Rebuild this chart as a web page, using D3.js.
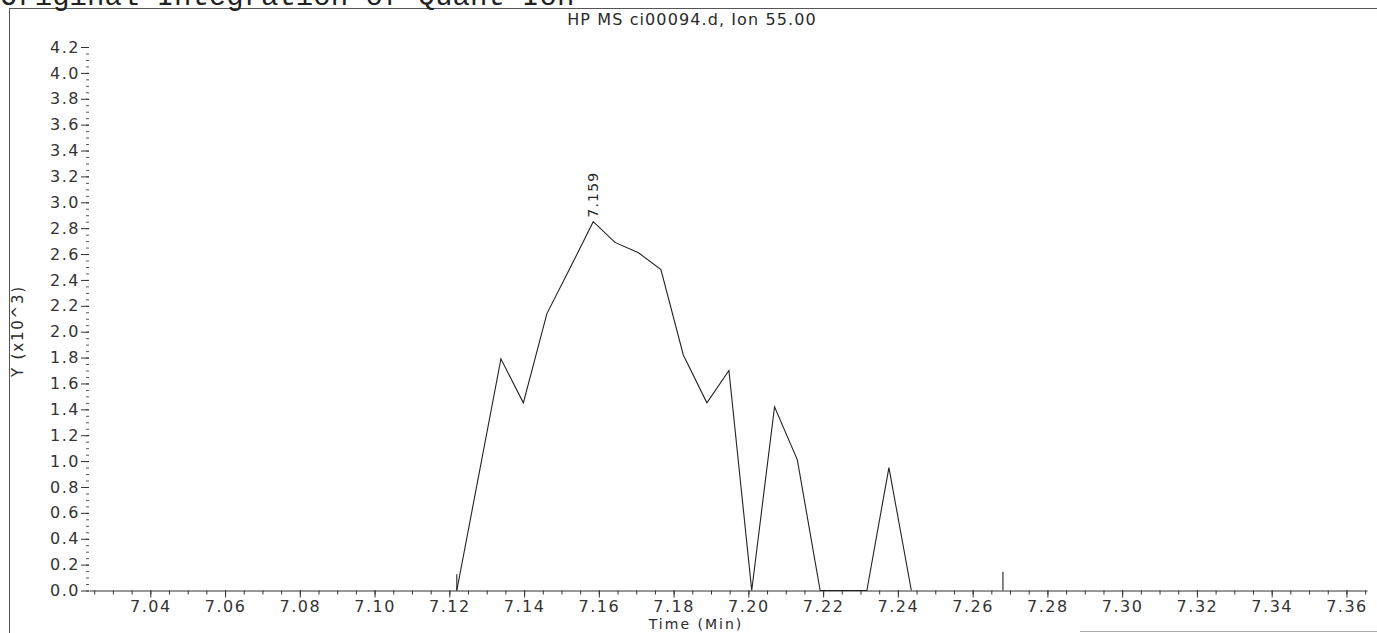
<!DOCTYPE html>
<html>
<head>
<meta charset="utf-8">
<script src="https://cdn.jsdelivr.net/npm/d3@7"></script>
<style>
  html, body { margin: 0; padding: 0; background: #fff; }
  svg text { font-family: "DejaVu Sans", sans-serif; fill: #2a2a2a; }
</style>
</head>
<body>
<div class="chart"></div>
<script>
// ion 55 trace (abundance in thousands)
const times = [7.1220, 7.1338, 7.1398, 7.1461, 7.1521, 7.1585, 7.1643, 7.1706, 7.1766, 7.1826,
               7.1889, 7.1948, 7.2009, 7.2070, 7.2131, 7.2192, 7.2253, 7.2317, 7.2376, 7.2436];
const abundance = [0, 1.79, 1.45, 2.14, 2.48, 2.85, 2.69, 2.61, 2.48, 1.82,
                   1.45, 1.70, 0, 1.42, 1.01, 0, 0, 0, 0.95, 0];

// integration marks
const markerTimes = [7.1220, 7.2681];
const markerHeights = [0.125, 0.145];

const peakTime = 7.1585;
const peakValue = 2.85;
const peakLabel = "7.159";

const xMajorTicks = [7.04, 7.06, 7.08, 7.10, 7.12, 7.14, 7.16, 7.18, 7.20, 7.22, 7.24, 7.26, 7.28, 7.30, 7.32, 7.34, 7.36];
const yMajorTicks = [0, 0.2, 0.4, 0.6, 0.8, 1.0, 1.2, 1.4, 1.6, 1.8, 2.0, 2.2, 2.4, 2.6, 2.8, 3.0, 3.2, 3.4, 3.6, 3.8, 4.0, 4.2];

const title = "HP MS ci00094.d, Ion 55.00";
const header = "Original Integration of Quant Ion";

const W = 1377, H = 633;

const svg = d3.select(".chart")
    .append("svg")
    .attr("width", W)
    .attr("height", H);

let x = d3.scaleLinear()
    .domain([7.0236, 7.3655])
    .range([89, 1367]);

let y = d3.scaleLinear()
    .domain([0, 4.2])
    .range([590.5, 47]);

// page frame
svg.append("line").attr("x1", 9).attr("x2", W).attr("y1", 8.5).attr("y2", 8.5)
    .attr("stroke", "#555").attr("stroke-width", 1);
svg.append("line").attr("x1", 9.5).attr("x2", 9.5).attr("y1", 8.5).attr("y2", H)
    .attr("stroke", "#555").attr("stroke-width", 1);
svg.append("line").attr("x1", 1080).attr("x2", W).attr("y1", 631.5).attr("y2", 631.5)
    .attr("stroke", "#aaa").attr("stroke-width", 1);

// header text, cut by the top edge like the scan
svg.append("text")
    .attr("x", 0).attr("y", 5)
    .style("font-family", "'Liberation Mono', monospace")
    .style("font-size", "29px")
    .style("fill", "#222")
    .text(header);

svg.append("text")
    .attr("x", 692).attr("y", 24.5)
    .attr("text-anchor", "middle")
    .style("font-size", "16px")
    .style("letter-spacing", "1.1px")
    .text(title);

//=== axes ===
const xMinor = d3.range(7.025, 7.3651, 0.005);
const yMinor = d3.range(0, 4.2001, 0.05);

svg.append("g")
    .attr("class", "x-minor")
    .attr("transform", `translate(0,${y(0)})`)
    .call(d3.axisBottom(x).tickValues(xMinor).tickSize(4).tickSizeOuter(0).tickFormat(""))
    .call(g => g.selectAll("line").attr("stroke", "#333"))
    .call(g => g.select(".domain").attr("stroke", "#333"));

svg.append("g")
    .attr("class", "x-axis")
    .attr("transform", `translate(0,${y(0)})`)
    .call(d3.axisBottom(x).tickValues(xMajorTicks).tickSize(7).tickSizeOuter(0).tickFormat(d3.format(".2f")))
    .call(g => g.select(".domain").remove())
    .call(g => g.selectAll("line").attr("stroke", "#333"))
    .call(g => g.selectAll("text")
        .attr("y", 10.5)
        .style("font-size", "16px")
        .style("letter-spacing", "1.5px")
        .style("fill", "#333"));

svg.append("g")
    .attr("class", "y-minor")
    .attr("transform", "translate(89,0)")
    .call(d3.axisLeft(y).tickValues(yMinor).tickSize(3).tickFormat(""))
    .call(g => g.select(".domain").remove())
    .call(g => g.selectAll("line").attr("stroke", "#555"));

svg.append("g")
    .attr("class", "y-axis")
    .attr("transform", "translate(89,0)")
    .call(d3.axisLeft(y).tickValues(yMajorTicks).tickSize(8).tickPadding(1).tickFormat(d3.format(".1f")))
    .call(g => g.select(".domain").remove())
    .call(g => g.selectAll("line").attr("stroke", "#333"))
    .call(g => g.selectAll("text")
        .style("font-size", "16px")
        .style("letter-spacing", "1.5px")
        .style("fill", "#333"));

svg.append("text")
    .attr("transform", "translate(23,331) rotate(-90)")
    .attr("text-anchor", "middle")
    .style("font-size", "15px")
    .style("letter-spacing", "1.8px")
    .text("Y (x10^3)");

svg.append("text")
    .attr("x", 696).attr("y", 628.5)
    .attr("text-anchor", "middle")
    .style("font-size", "14px")
    .style("letter-spacing", "2px")
    .text("Time (Min)");

//=== trace ===
const trace = times.map((t, i) => ({ t, v: abundance[i] }));

const line = d3.line()
    .x(d => x(d.t))
    .y(d => y(d.v));

svg.append("path")
    .datum(trace)
    .attr("fill", "none")
    .attr("stroke", "#222")
    .attr("stroke-width", 1.1)
    .attr("d", line);

svg.selectAll(".marker")
    .data(markerTimes)
    .join("line")
    .attr("class", "marker")
    .attr("x1", d => x(d)).attr("x2", d => x(d))
    .attr("y1", y(0))
    .attr("y2", (d, i) => y(markerHeights[i]))
    .attr("stroke", "#222")
    .attr("stroke-width", 1.1);

svg.append("text")
    .attr("transform", `translate(${x(peakTime) + 5},${y(peakValue) - 4}) rotate(-90)`)
    .style("font-size", "14px")
    .style("letter-spacing", "1.2px")
    .text(peakLabel);
</script>
</body>
</html>
